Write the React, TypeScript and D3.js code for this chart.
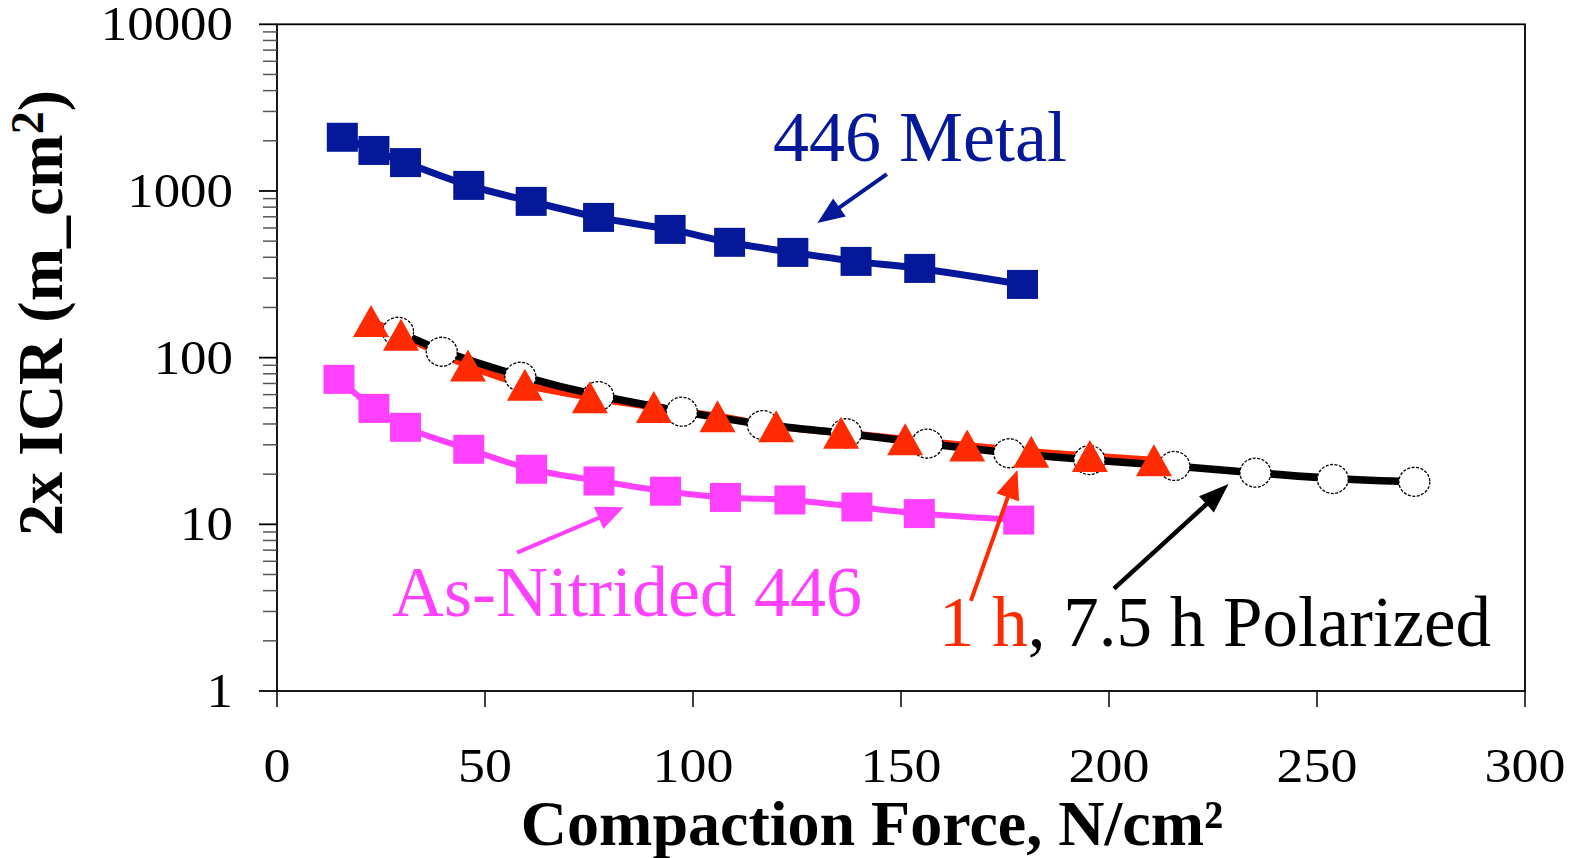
import React from "react";
import * as d3 from "d3";

// ---- data ----
const metalX = [15.7, 23.3, 30.9, 46.1, 61.1, 77.3, 94.5, 108.8, 124.0, 139.2, 154.5, 179.2];
const metalY = [2100, 1750, 1480, 1080, 866, 694, 588, 492, 428, 378, 343, 275];

const nitridedX = [14.9, 23.3, 30.9, 46.1, 61.2, 77.4, 93.4, 107.8, 123.3, 139.4, 154.4, 178.3];
const nitridedY = [74.1, 49.6, 38.2, 28.2, 21.4, 18.2, 15.8, 14.5, 14.0, 12.7, 11.6, 10.6];

const pol1hX = [22.6, 29.8, 45.9, 59.6, 75.2, 90.6, 105.9, 120.0, 135.6, 151.0, 165.9, 181.3, 195.4, 210.8];
const pol1hY = [166, 137, 89.7, 68.8, 57.8, 50.5, 44.5, 38.7, 35.4, 32.4, 29.7, 27.3, 25.7, 24.2];

const pol75X = [29.1, 39.6, 58.5, 77.2, 97.3, 116.8, 136.8, 156.3, 176.0, 195.3, 215.7, 235.2, 253.8, 273.4];
const pol75Y = [143, 108.5, 76.8, 58.8, 47.4, 39.4, 35.2, 30.5, 26.7, 24.3, 22.4, 20.4, 18.7, 18.0];

const xTicks = [0, 50, 100, 150, 200, 250, 300];
const yTicks = [1, 10, 100, 1000, 10000];

// annotation arrows in data units: [tailX, tailY, tipX, tipY]
const arrowMetal = [146.6, 1263, 129.9, 642];
const arrowNitrided = [57.7, 6.77, 83.3, 12.65];
const arrow1h = [166.8, 3.47, 178.0, 21.2];
const arrow75h = [201.2, 4.11, 228.75, 17.45];

const NAVY = "#06189A";
const MAGENTA = "#FF40FF";
const RED = "#FF2A00";
const BLACK = "#000000";
const FONT = "'Liberation Serif', 'Times New Roman', Times, serif";

const W = 1578;
const H = 858;

const x = d3.scaleLinear().domain([0, 300]).range([277, 1525]);
const y = d3.scaleLog().domain([1, 10000]).range([691, 24.3]);

function zip(xs: number[], ys: number[]): [number, number][] {
  return xs.map((v, i) => [v, ys[i]]);
}

const smooth = d3
  .line<[number, number]>()
  .x((d) => x(d[0]))
  .y((d) => y(d[1]))
  .curve(d3.curveCatmullRom.alpha(0.5));

const trend = d3
  .line<[number, number]>()
  .x((d) => x(d[0]))
  .y((d) => y(d[1]))
  .curve(d3.curveBasis);

function Arrow({ a, color, len, half, width }: { a: number[]; color: string; len: number; half: number; width: number }) {
  const x1 = x(a[0]);
  const y1 = y(a[1]);
  const x2 = x(a[2]);
  const y2 = y(a[3]);
  const dx = x2 - x1;
  const dy = y2 - y1;
  const L = Math.hypot(dx, dy);
  const ux = dx / L;
  const uy = dy / L;
  const bx = x2 - ux * len;
  const by = y2 - uy * len;
  const px = -uy;
  const py = ux;
  const pts = [
    [x2, y2],
    [bx + px * half, by + py * half],
    [bx - px * half, by - py * half],
  ]
    .map((p) => p.join(","))
    .join(" ");
  return (
    <g>
      <line x1={x1} y1={y1} x2={bx + ux * 2} y2={by + uy * 2} stroke={color} strokeWidth={width} />
      <polygon points={pts} fill={color} />
    </g>
  );
}

export default function App() {
  const minor: number[] = [];
  for (let e = 0; e < 4; e++) {
    for (let k = 2; k <= 9; k++) minor.push(k * Math.pow(10, e));
  }
  const sqW = 31;
  const sqH = 29;
  const triW = 36;
  const triH = 32;

  return (
    <svg
      width={W}
      height={H}
      style={{ position: "absolute", left: 0, top: 0, background: "#fff" }}
      fontFamily={FONT}
    >
      <rect x={0} y={0} width={W} height={H} fill="#fff" />

      {/* plot frame */}
      <rect x={x(0)} y={y(10000)} width={x(300) - x(0)} height={y(1) - y(10000)} fill="none" stroke="#000" strokeWidth={1.8} />

      {/* y ticks */}
      {minor.map((v) => (
        <line key={"m" + v} x1={263} x2={x(0)} y1={y(v)} y2={y(v)} stroke="#555" strokeWidth={1.5} />
      ))}
      {yTicks.map((v) => (
        <g key={"y" + v}>
          <line x1={259} x2={x(0)} y1={y(v)} y2={y(v)} stroke="#000" strokeWidth={1.8} />
          <text
            transform={`translate(233,${y(v) + 16}) scale(1.08,1)`}
            textAnchor="end"
            fontSize={49}
            fill="#000"
          >
            {v}
          </text>
        </g>
      ))}

      {/* x ticks */}
      {xTicks.map((v) => (
        <g key={"x" + v}>
          <line x1={x(v)} x2={x(v)} y1={y(1)} y2={y(1) + 16} stroke="#000" strokeWidth={1.5} />
          <text
            transform={`translate(${x(v)},782) scale(1.1,1)`}
            textAnchor="middle"
            fontSize={49}
            fill="#000"
          >
            {v}
          </text>
        </g>
      ))}

      {/* axis titles */}
      <text x={872} y={845} textAnchor="middle" fontSize={64} fontWeight="bold" fill="#000">
        Compaction Force, N/cm²
      </text>
      <text
        transform={`translate(62,313) rotate(-90)`}
        textAnchor="middle"
        fontSize={64}
        fontWeight="bold"
        fill="#000"
      >
        2x ICR (m_cm
        <tspan fontSize={46} dy={-19}>
          2
        </tspan>
        <tspan dy={19}>)</tspan>
      </text>

      {/* series lines */}
      <path d={smooth(zip(metalX, metalY)) || ""} fill="none" stroke={NAVY} strokeWidth={7} />
      <path d={smooth(zip(nitridedX, nitridedY)) || ""} fill="none" stroke={MAGENTA} strokeWidth={6} />
      <path d={smooth(zip(pol1hX, pol1hY)) || ""} fill="none" stroke={RED} strokeWidth={7} />
      <path d={trend(zip(pol75X, pol75Y)) || ""} fill="none" stroke={BLACK} strokeWidth={7.5} />

      {/* markers */}
      {metalX.map((v, i) => (
        <rect key={"ms" + i} x={x(v) - sqW / 2} y={y(metalY[i]) - sqH / 2} width={sqW} height={sqH} fill={NAVY} />
      ))}
      {nitridedX.map((v, i) => (
        <rect key={"ns" + i} x={x(v) - sqW / 2} y={y(nitridedY[i]) - sqH / 2} width={sqW} height={sqH} fill={MAGENTA} />
      ))}
      {pol75X.map((v, i) => (
        <ellipse
          key={"pc" + i}
          cx={x(v)}
          cy={y(pol75Y[i])}
          rx={15.5}
          ry={14.5}
          fill="#fff"
          stroke="#000"
          strokeWidth={1.3}
          strokeDasharray="3 1.5"
        />
      ))}
      {pol1hX.map((v, i) => {
        const cx = x(v);
        const cy = y(pol1hY[i]);
        return (
          <polygon
            key={"pt" + i}
            points={`${cx},${cy - triH / 2} ${cx + triW / 2},${cy + triH / 2} ${cx - triW / 2},${cy + triH / 2}`}
            fill={RED}
          />
        );
      })}

      {/* annotations */}
      <Arrow a={arrowMetal} color={NAVY} len={27} half={11} width={4} />
      <Arrow a={arrowNitrided} color={MAGENTA} len={27} half={12} width={4} />
      <Arrow a={arrow1h} color={RED} len={29} half={12} width={4} />
      <Arrow a={arrow75h} color={BLACK} len={30} half={11} width={4.5} />

      <text x={773} y={161} fontSize={72} fill={NAVY}>
        446 Metal
      </text>
      <text x={392} y={616} fontSize={72} fill={MAGENTA}>
        As-Nitrided 446
      </text>
      <text x={939} y={646} fontSize={71} fill="#000">
        <tspan fill={RED}>1 h</tspan>, 7.5 h Polarized
      </text>
    </svg>
  );
}
